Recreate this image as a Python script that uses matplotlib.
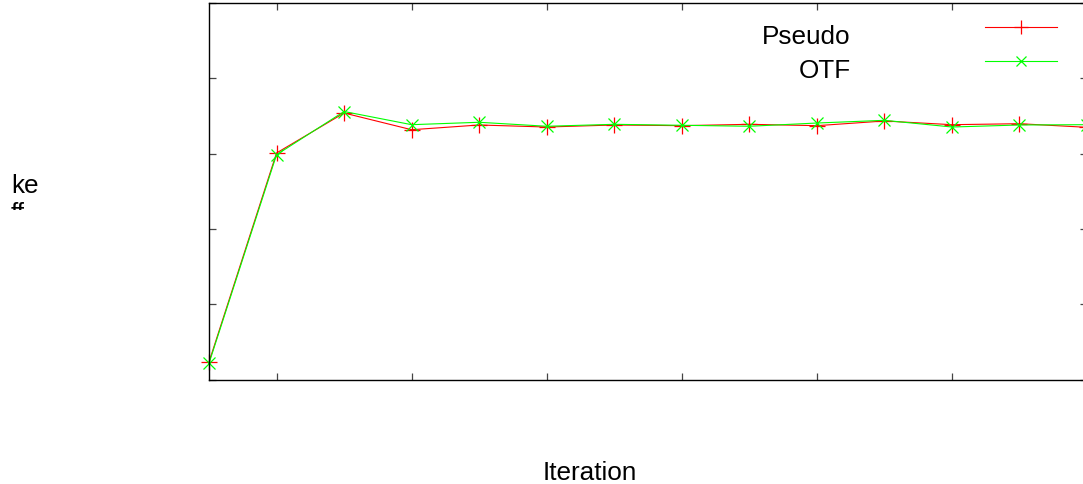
import matplotlib
matplotlib.use('Agg')
import matplotlib.pyplot as plt
from matplotlib.transforms import Bbox

plt.rcParams['font.family'] = ['Liberation Sans', 'DejaVu Sans']

# iteration number and the two series (no axis labels shown)
iterations = list(range(1, 15))
pseudo = [0.232, 3.008, 3.539, 3.317, 3.380, 3.353, 3.380,
          3.371, 3.389, 3.371, 3.433, 3.384, 3.397, 3.349]
otf = [0.215, 2.985, 3.559, 3.384, 3.416, 3.363, 3.389,
       3.376, 3.363, 3.406, 3.442, 3.353, 3.380, 3.384]

x_ticks = [2, 4, 6, 8, 10, 12, 14]
y_ticks = [0, 1, 2, 3, 4, 5]

W, H = 1083, 485
fig = plt.figure(figsize=(W / 100, H / 100), dpi=100)
ax = fig.add_axes([209 / W, 104.5 / H, 878 / W, 376.5 / H])

ax.plot(iterations, pseudo, color='#ff0000', lw=0.8, marker='+',
        markersize=11, markeredgewidth=0.9, clip_on=False)
ax.plot(iterations, otf, color='#00ff00', lw=0.8, marker='x',
        markersize=8, markeredgewidth=0.9, clip_on=False)

ax.set_xlim(1, 14)
ax.set_ylim(0, 5)
ax.set_xticks(x_ticks)
ax.set_yticks(y_ticks)
ax.tick_params(direction='in', length=5, width=0.9, color='#444444',
               top=True, right=True, labelbottom=False, labelleft=False)
for s in ax.spines.values():
    s.set_linewidth(1.0)
    s.set_color('black')

# gnuplot-style key: text on the left, sample on the right
fs = 18.8
key = [('Pseudo', '#ff0000', '+', 10, 28), ('OTF', '#00ff00', 'x', 6.5, 62)]
for label, col, mk, ms, yline in key:
    fig.text(851 / W, 1 - (yline + 8.5) / H, label, ha='right', va='center',
             fontsize=fs)
    fig.add_artist(plt.Line2D([985 / W, 1057 / W], [1 - yline / H] * 2,
                              color=col, lw=0.8, transform=fig.transFigure))
    fig.add_artist(plt.Line2D([1021 / W], [1 - yline / H], color=col,
                              marker=mk, markersize=ms, markeredgewidth=0.9,
                              transform=fig.transFigure))

fig.text(590 / W, 1 - 473.5 / H, 'Iteration', ha='center', va='center',
         fontsize=fs)

# y label, partly cut off in the original
fig.text(11 / W, 1 - 186 / H, 'ke', ha='left', va='center', fontsize=fs)
ff = fig.text(11 / W, 1 - 214 / H, 'ff', ha='left', va='center', fontsize=fs)
ff.set_clip_box(Bbox.from_extents(0, H - 211, 60, H - 200))
ff.set_clip_on(True)

fig.savefig('out.png', dpi=100)
